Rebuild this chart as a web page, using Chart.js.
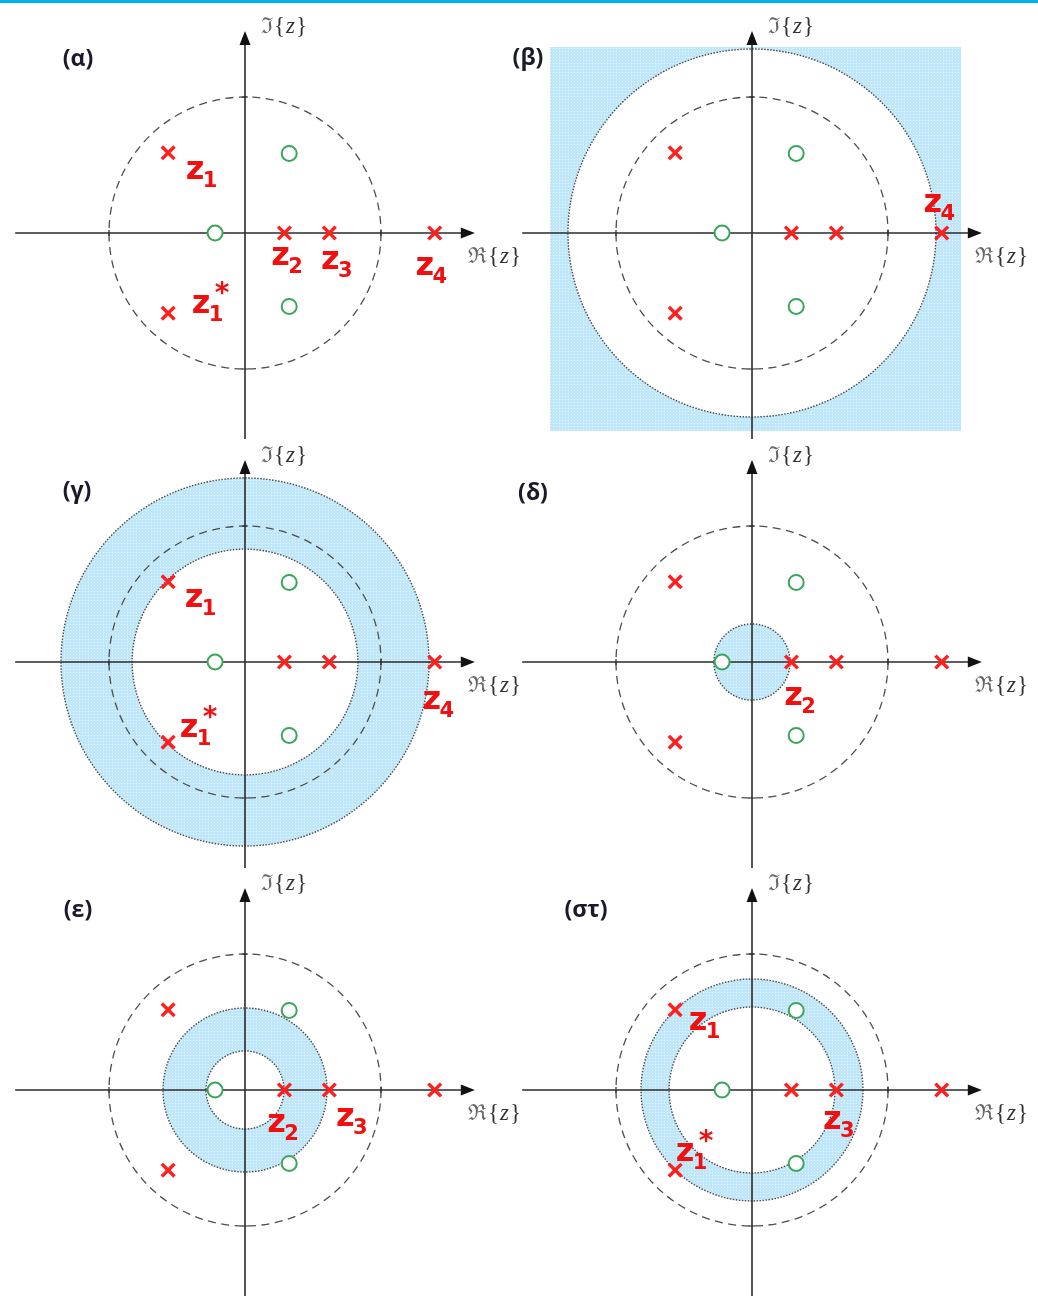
<!DOCTYPE html>
<html>
<head>
<meta charset="utf-8">
<script src="https://cdn.jsdelivr.net/npm/chart.js@4/dist/chart.umd.min.js"></script>
<style>
html,body{margin:0;padding:0;background:#fff;}
#wrap{position:relative;width:1038px;height:1304px;overflow:hidden;background:#fff;}
#bar{position:absolute;left:0;top:0;width:1038px;height:3px;background:#00b0f0;}
canvas{position:absolute;}
</style>
</head>
<body>
<div id="wrap"><div id="bar"></div></div>
<script>
// ---------- data (z-plane units, unit circle radius = 1) ----------
const panelNames = ['(α)', '(β)', '(γ)', '(δ)', '(ε)', '(στ)'];
const poleRe = [-0.565, -0.565, 0.29, 0.62, 1.395];
const poleIm = [0.59, -0.59, 0, 0, 0];
const poleNames = ['z1', 'z1*', 'z2', 'z3', 'z4'];
const zeroRe = [0.325, 0.325, -0.22];
const zeroIm = [0.585, -0.54, 0];
const unitRadius = 1;
// region of convergence per panel: [inner radius, outer radius] (null = none)
const rocInner = [null, 1.353, 0.83, 0, 0.287, 0.61];
const rocOuter = [null, Infinity, 1.353, 0.28, 0.603, 0.816];
// which pole names are handwritten on each panel
const shownLabels = [
  ['z1', 'z1*', 'z2', 'z3', 'z4'],
  ['z4'],
  ['z1', 'z1*', 'z4'],
  ['z2'],
  ['z2', 'z3'],
  ['z1', 'z1*', 'z3']
];

// ---------- layout (pixels) ----------
const S = 136; // px per unit
const origins = [[245,233],[752,233],[245,662],[752,662],[245,1090],[752,1090]];
const labelOffsets = [
  {'z1':[27,18],'z1*':[33,-9],'z2':[-4,24],'z3':[1,28],'z4':[-10,34]},
  {'z4':[-9,-29]},
  {'z1':[26,17],'z1*':[21,-14],'z4':[-3,39]},
  {'z2':[2,35]},
  {'z2':[-8,34],'z3':[16,28]},
  {'z1':[23,12],'z1*':[10,-18],'z3':[-4,31]}
];
const titlePos = [[78,59],[528,58],[77,491],[533,493],[78,910],[586,910]];
const axisX = [-1.69, 1.69], axisY = [-1.515, 1.485];
const betaRect = [-1.485, 1.537, -1.456, 1.368]; // x0,x1,y0,y1

// dotted fill pattern
const pc = document.createElement('canvas');
pc.width = 3; pc.height = 3;
const pg = pc.getContext('2d');
pg.fillStyle = '#c0e7f9'; pg.fillRect(0,0,3,3);
pg.fillStyle = '#e6f6fd'; pg.fillRect(1,1,1,1);

const pzPlugin = {
  id: 'pz',
  beforeDatasetsDraw(chart, args, opts) {
    const ctx = chart.ctx, xs = chart.scales.x, ys = chart.scales.y;
    const X = v => xs.getPixelForValue(v), Y = v => ys.getPixelForValue(v);
    const cx = X(0), cy = Y(0);
    const R = r => Math.abs(X(r) - cx);
    const i = opts.index;
    ctx.save();
    // ROC shading
    const inner = rocInner[i], outer = rocOuter[i];
    if (inner !== null) {
      const pattern = ctx.createPattern(pc, 'repeat');
      ctx.fillStyle = pattern;
      ctx.beginPath();
      if (outer === Infinity) {
        ctx.rect(X(betaRect[0]), Y(betaRect[3]), X(betaRect[1]) - X(betaRect[0]), Y(betaRect[2]) - Y(betaRect[3]));
      } else {
        ctx.arc(cx, cy, R(outer), 0, Math.PI * 2);
      }
      if (inner > 0) {
        ctx.moveTo(cx + R(inner), cy);
        ctx.arc(cx, cy, R(inner), 0, Math.PI * 2, true);
      }
      ctx.fill('evenodd');
      // dotted boundaries
      ctx.strokeStyle = '#4a4a4a';
      ctx.lineWidth = 1.4;
      ctx.setLineDash([1.5, 1.5]);
      [inner, outer].forEach(r => {
        if (r > 0 && r !== Infinity) {
          ctx.beginPath(); ctx.arc(cx, cy, R(r), 0, Math.PI * 2); ctx.stroke();
        }
      });
    }
    // dashed unit circle
    ctx.strokeStyle = '#4d4d4d';
    ctx.lineWidth = 1.3;
    ctx.setLineDash([8, 5.5]);
    ctx.beginPath(); ctx.arc(cx, cy, R(unitRadius), 0, Math.PI * 2); ctx.stroke();
    ctx.setLineDash([]);
    // axes
    ctx.strokeStyle = '#2b2b2b';
    ctx.fillStyle = '#111';
    ctx.lineWidth = 1.6;
    ctx.beginPath();
    ctx.moveTo(X(axisX[0]), cy); ctx.lineTo(X(axisX[1]) - 6, cy);
    ctx.moveTo(cx, Y(axisY[0])); ctx.lineTo(cx, Y(axisY[1]) + 6);
    ctx.stroke();
    const xt = X(axisX[1]), yt = Y(axisY[1]);
    ctx.beginPath(); ctx.moveTo(xt, cy); ctx.lineTo(xt - 14, cy - 5.5); ctx.lineTo(xt - 14, cy + 5.5); ctx.closePath(); ctx.fill();
    ctx.beginPath(); ctx.moveTo(cx, yt); ctx.lineTo(cx - 5.5, yt + 14); ctx.lineTo(cx + 5.5, yt + 14); ctx.closePath(); ctx.fill();
    // ticks at +-1
    ctx.lineWidth = 1.2;
    ctx.beginPath();
    [-unitRadius, unitRadius].forEach(v => {
      ctx.moveTo(X(v), cy - 3); ctx.lineTo(X(v), cy + 3);
      ctx.moveTo(cx - 3, Y(v)); ctx.lineTo(cx + 3, Y(v));
    });
    ctx.stroke();
    // axis labels
    ctx.textBaseline = 'middle';
    ctx.textAlign = 'left';
    const axLabel = (sym, x, y) => {
      ctx.font = '22px "DejaVu Serif"';
      ctx.fillStyle = '#666';
      ctx.fillText(sym, x, y);
      let w = ctx.measureText(sym).width;
      ctx.fillStyle = '#333';
      ctx.font = '23px "Liberation Serif"';
      ctx.fillText('{', x + w + 1, y);
      w += ctx.measureText('{').width + 1;
      ctx.font = 'italic 23px "Liberation Serif"';
      ctx.fillText('z', x + w + 1, y);
      w += ctx.measureText('z').width + 2;
      ctx.font = '23px "Liberation Serif"';
      ctx.fillText('}', x + w, y);
    };
    axLabel('ℑ', cx + 16, cy - 206);
    axLabel('ℜ', cx + 223, cy + 24);
    // panel title
    ctx.font = 'bold 23px "Open Sans"';
    ctx.fillStyle = '#1a1a2a';
    ctx.textAlign = 'center';
    const cv = chart.canvas;
    ctx.fillText(panelNames[i], titlePos[i][0] - parseFloat(cv.style.left), titlePos[i][1] - parseFloat(cv.style.top));
    ctx.restore();
  },
  afterDatasetsDraw(chart, args, opts) {
    const ctx = chart.ctx, xs = chart.scales.x, ys = chart.scales.y;
    const i = opts.index;
    ctx.save();
    ctx.fillStyle = '#f01010';
    ctx.textBaseline = 'middle';
    ctx.textAlign = 'center';
    shownLabels[i].forEach(name => {
      const k = poleNames.indexOf(name);
      const off = labelOffsets[i][name];
      const x = xs.getPixelForValue(poleRe[k]) + off[0];
      const y = ys.getPixelForValue(poleIm[k]) + off[1];
      ctx.font = 'bold 32px "DejaVu Sans"';
      ctx.fillText('z', x, y);
      ctx.font = 'bold 21px "DejaVu Sans"';
      ctx.fillText(name.charAt(1), x + 15, y + 11);
      if (name.endsWith('*')) {
        ctx.font = 'bold 28px "DejaVu Sans"';
        ctx.fillText('*', x + 21, y - 10);
      }
    });
    ctx.restore();
  }
};

const wrap = document.getElementById('wrap');
origins.forEach((o, i) => {
  const left = o[0] - 245, top = o[1] - 225;
  const W = Math.min(540, 1038 - left), H = 440;
  const cv = document.createElement('canvas');
  cv.width = W; cv.height = H;
  cv.style.left = left + 'px'; cv.style.top = top + 'px';
  cv.style.width = W + 'px'; cv.style.height = H + 'px';
  wrap.appendChild(cv);
  new Chart(cv, {
    type: 'scatter',
    data: {
      datasets: [
        {
          label: 'zeros',
          data: zeroRe.map((v, k) => ({x: v, y: zeroIm[k]})),
          pointStyle: 'circle', pointRadius: 7.5,
          borderColor: '#3aa65a', backgroundColor: '#ffffff', borderWidth: 2,
          clip: false
        },
        {
          label: 'poles',
          data: poleRe.map((v, k) => ({x: v, y: poleIm[k]})),
          pointStyle: 'crossRot', pointRadius: 9,
          borderColor: '#ff1f1f', backgroundColor: '#ff1f1f', borderWidth: 3.5,
          clip: false
        }
      ]
    },
    options: {
      responsive: false,
      animation: false,
      devicePixelRatio: 1,
      layout: {padding: 0, autoPadding: false},
      events: [],
      scales: {
        x: {type: 'linear', display: false, min: -245 / S, max: (W - 245) / S},
        y: {type: 'linear', display: false, min: -(H - 225) / S, max: 225 / S}
      },
      plugins: {
        legend: {display: false},
        tooltip: {enabled: false},
        pz: {index: i}
      }
    },
    plugins: [pzPlugin]
  });
});
</script>
</body>
</html>
